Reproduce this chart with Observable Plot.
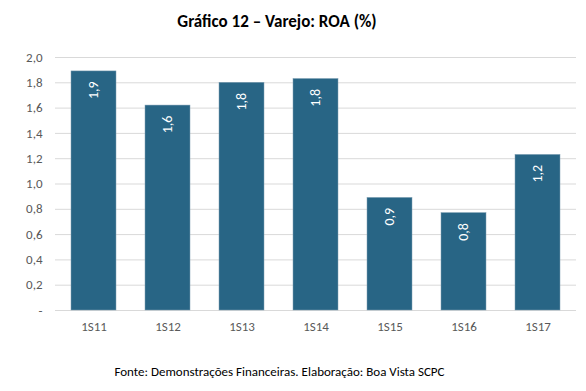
<!DOCTYPE html>
<html>
<head>
<meta charset="utf-8">
<script src="https://cdn.jsdelivr.net/npm/d3@7"></script>
<script src="https://cdn.jsdelivr.net/npm/@observablehq/plot@0.6"></script>
<style>
  body { margin: 0; background: #fff; font-family: Carlito, Lato, sans-serif; }
  #wrap { width: 586px; height: 391px; position: relative; overflow: hidden; }
  #title { position: absolute; top: 11px; left: 0; width: 554px; text-align: center; font-weight: bold; font-size: 17px; color: #000; line-height: 22px; }
  #chart { position: absolute; top: 40px; left: 0; }
  #caption { position: absolute; top: 363px; left: 0; width: 559px; text-align: center; font-size: 13px; color: #000; line-height: 18px; }
</style>
</head>
<body>
<div id="wrap">
  <div id="title">Gráfico 12 – Varejo: ROA (%)</div>
  <div id="chart"></div>
  <div id="caption">Fonte: Demonstrações Financeiras. Elaboração: Boa Vista SCPC</div>
</div>
<script>
const periods = ["1S11", "1S12", "1S13", "1S14", "1S15", "1S16", "1S17"];
const roa = [1.89, 1.62, 1.80, 1.83, 0.89, 0.77, 1.23];
const yTicks = [0, 0.2, 0.4, 0.6, 0.8, 1.0, 1.2, 1.4, 1.6, 1.8, 2.0];

const data = periods.map((p, i) => ({period: p, value: roa[i]}));
const fmt = v => v === 0 ? "-" : d3.format(".1f")(v).replace(".", ",");

const chart = Plot.plot({
  width: 586,
  height: 300,
  marginTop: 17,
  marginBottom: 30,
  marginLeft: 55,
  marginRight: 10,
  style: {fontFamily: "Carlito, Lato, sans-serif", fontSize: "13px", color: "#595959", background: "transparent"},
  x: {domain: periods, paddingInner: 0.39, paddingOuter: 0.195, label: null, tickSize: 0, tickPadding: 11},
  y: {domain: [0, 2], ticks: yTicks, tickFormat: fmt, label: null, tickSize: 0, tickPadding: 13},
  marks: [
    Plot.ruleY(yTicks, {stroke: "#d9d9d9", strokeWidth: 1}),
    Plot.barY(data, {x: "period", y: "value", fill: "#286585", stroke: "#7f9fb3", strokeWidth: 0.5}),
    Plot.text(data, {x: "period", y: "value", text: d => fmt(d.value), rotate: -90, textAnchor: "end", dy: 10, fill: "white", fontSize: 14})
  ]
});
document.getElementById("chart").appendChild(chart);
</script>
</body>
</html>
